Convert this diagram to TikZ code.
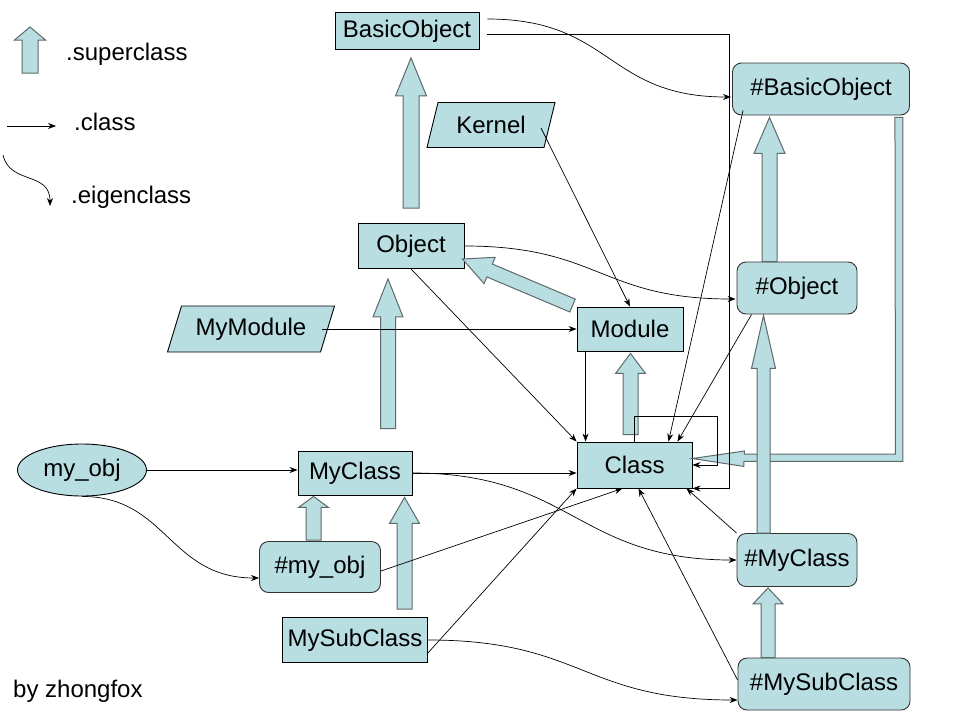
\documentclass[tikz,border=0pt]{standalone}
\usepackage{fontspec}
\setmainfont{Liberation Sans}
\usetikzlibrary{arrows.meta,calc,shapes.geometric}
\definecolor{boxblue}{RGB}{184,222,226}
\definecolor{arrowline}{RGB}{95,105,106}
\tikzset{
	cls/.style={draw=black, fill=boxblue, line width=0.9pt, inner sep=0pt, font=\fontsize{24}{28}\selectfont},
	eig/.style={cls, draw=black!80, rounded corners=9pt},
	mdl/.style={cls, trapezium, trapezium left angle=58, trapezium right angle=122, trapezium stretches body},
	inst/.style={cls, ellipse},
	instof/.style={-{Stealth[length=8pt,width=6pt]}, line width=0.7pt},
	supfill/.style={draw=arrowline, fill=boxblue, line width=1pt},
	lbl/.style={inner sep=0pt, font=\fontsize{24}{28}\selectfont},
}
\newcommand{\superarrow}[5]{%
	\coordinate (st) at #1;
	\coordinate (sh) at #2;
	\coordinate (sb) at ($(sh)!#5!(st)$);
	\draw[supfill] ($(st)!#3!90:(sh)$) -- ($(sb)!#3!90:(sh)$) -- ($(sb)!#4!90:(sh)$) -- (sh)
		-- ($(sb)!#4!-90:(sh)$) -- ($(sb)!#3!-90:(sh)$) -- ($(st)!#3!-90:(sh)$) -- cycle;
}
\begin{document}
\begin{tikzpicture}[x=1pt,y=-1pt]
	\useasboundingbox (0,0) rectangle (960,720);
	\superarrow{(30,73)}{(30,27)}{8pt}{15.5pt}{13pt}
	\node[lbl, anchor=base west] (lsup) at (66,60) {.superclass};
	\coordinate (lc1) at (7,126);
	\coordinate (lc2) at (56,126);
	\draw[instof] (lc1) -- (lc2);
	\node[lbl, anchor=base west] (lcls) at (74,130) {.class};
	\coordinate (le1) at (3,155);
	\coordinate (le2) at (50,206);
	\draw[instof] (le1) .. controls +(7,30) and +(0,-35) .. (le2);
	\node[lbl, anchor=base west] (leig) at (71,203) {.eigenclass};
	\node[lbl, anchor=base west] (auth) at (13,697) {by zhongfox};

	\node[cls, minimum width=144, minimum height=37] (bo) at (407,31) {BasicObject};
	\node[mdl, minimum width=128, minimum height=45] (krn) at (491,125) {Kernel};
	\node[cls, minimum width=106, minimum height=45] (obj) at (411,246) {Object};
	\node[cls, minimum width=106, minimum height=44] (mod) at (630,329) {Module};
	\node[cls, minimum width=115, minimum height=46] (klass) at (634.5,465) {Class};
	\node[mdl, minimum width=167, minimum height=46] (mymod) at (251,329) {MyModule};
	\node[inst, minimum width=129, minimum height=52] (myobj) at (82,470) {my\_obj};
	\node[cls, minimum width=114, minimum height=44] (mycls) at (355,473) {MyClass};
	\node[eig, minimum width=121, minimum height=51] (hmyobj) at (320,567) {\#my\_obj};
	\node[cls, minimum width=145, minimum height=45] (mysub) at (355,640) {MySubClass};
	\node[eig, minimum width=177, minimum height=52] (hbo) at (821,89) {\#BasicObject};
	\node[eig, minimum width=120, minimum height=52] (hobj) at (797,288) {\#Object};
	\node[eig, minimum width=120, minimum height=53] (hmycls) at (797,560) {\#MyClass};
	\node[eig, minimum width=172, minimum height=52] (hmysub) at (824,684) {\#MySubClass};

	\draw[supfill] ($(hbo.south east)+(-15,2)$) -- ++(8,0) -- ++(0,344) -- ++(-159,0) -- ++(0,5)
		-- ($(klass.east)+(0,-6.5)$) -- ++(52,-7.5) -- ++(0,3) -- ++(151,0) -- cycle;
	\superarrow{($(obj.north)+(0,-15)$)}{($(obj.north |- bo.south)+(0,8)$)}{8pt}{15.5pt}{38pt}
	\superarrow{($(mycls.north)+(33,-22)$)}{($(obj.south)+(-23,10)$)}{7.5pt}{15pt}{38pt}
	\superarrow{($(mod.north west)+(-4,-1)$)}{($(obj.east)+(-2,13)$)}{7pt}{14.3pt}{29.5pt}
	\superarrow{($(klass.north)+(-4,-7)$)}{($(mod.south)+(0.5,2)$)}{7.5pt}{15pt}{20pt}
	\superarrow{($(hmyobj.north)+(-6.5,-1)$)}{($(mycls.south)+(-41.5,1)$)}{7.5pt}{15pt}{11pt}
	\superarrow{($(mysub.north)+(49.5,-8)$)}{($(mycls.south)+(49.5,2)$)}{7.5pt}{15pt}{26pt}
	\superarrow{($(hobj.north)+(-27.5,0)$)}{($(hbo.south)+(-51.5,2)$)}{7.5pt}{15.5pt}{36pt}
	\superarrow{($(hmycls.north)+(-33.5,0)$)}{($(hobj.south)+(-33.5,1)$)}{6.5pt}{12pt}{53pt}
	\superarrow{($(hmysub.north)+(-56,0)$)}{($(hmycls.south)+(-29,1)$)}{7pt}{15pt}{16pt}

	\draw[instof] ($(bo.east)+(8,-12)$) .. controls +(125,0) and +(-125,0) .. ($(hbo.west)+(-1,8)$);
	\draw[instof] ($(bo.east)+(8,3)$) -| ($(klass.south east)+(37,0)$) -- (klass.south east);
	\draw[instof] ($(krn.center)+(50,3)$) -- (mod.north);
	\draw[instof] (obj.east) .. controls +(135,0) and +(-135,0) .. ($(hobj.west)+(-1,11)$);
	\draw[instof] (obj.south) -- (klass.north west);
	\draw[instof] ($(mymod.center)+(71,0)$) -- (mod.west);
	\draw[instof] ($(mod.south west)+(9,0)$) -- ($(klass.north west)+(9,0)$);
	\draw[instof] ($(hbo.south west)+(11,-5)$) -- ($(klass.north)+(34,0)$);
	\draw[instof] ($(hobj.south west)+(15,0)$) -- ($(klass.north)+(43,0)$);
	\draw[instof] (klass.north) -- ++(0,-25) -| ($(klass.east)+(25,0)$) -- (klass.east);
	\draw[instof] (myobj.east) -- (myobj.east -| mycls.west);
	\draw[instof] (myobj.south) .. controls +(85,0) and +(-90,0) .. ($(hmyobj.west)+(0,11)$);
	\draw[instof] (mycls.east) -- (mycls.east -| klass.west);
	\draw[instof] (mycls.east) .. controls +(160,0) and +(-160,0) .. (hmycls.west);
	\draw[instof] ($(hmyobj.east)+(0,4)$) -- ($(klass.south)+(-12,0)$);
	\draw[instof] ($(mysub.south east)+(0,-10)$) -- (klass.south west);
	\draw[instof] (mysub.east) .. controls +(155,0) and +(-155,0) .. ($(hmysub.west)+(0,16)$);
	\draw[instof] (hmycls.north west) -- ($(klass.south east)+(-6,0)$);
	\draw[instof] ($(hmysub.west)+(0,-4)$) -- ($(klass.south)+(4,0)$);
\end{tikzpicture}
\end{document}
